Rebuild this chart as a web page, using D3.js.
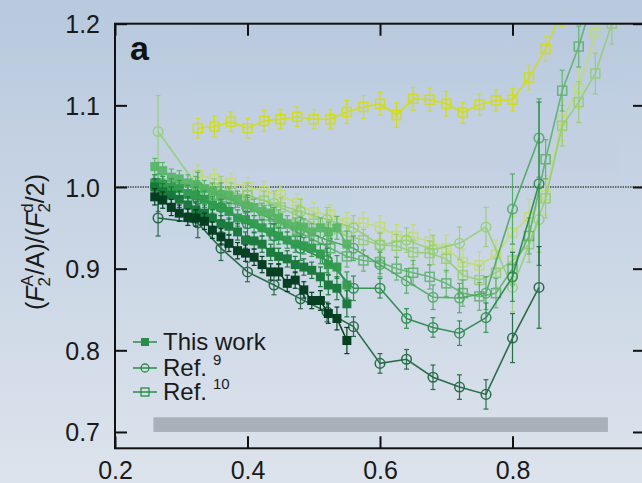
<!DOCTYPE html>
<html><head><meta charset="utf-8">
<script src="https://cdn.jsdelivr.net/npm/d3@7"></script>
<style>body{margin:0;background:#fff}svg{display:block}</style>
</head><body>
<svg id="c" width="642" height="483"></svg>
<script>
// ---------- data ----------
const xTicks = [0.2, 0.4, 0.6, 0.8];
const yTicks = [0.7, 0.8, 0.9, 1.0, 1.1, 1.2];

// This work (filled squares)
const xThis = [0.26,0.272,0.285,0.297,0.31,0.322,0.335,0.347,0.36,0.372,0.385,0.397,0.41,0.422,0.435,0.447,0.46,0.472,0.485,0.497,0.51,0.522,0.535,0.55];
const thisT4 = [1.025,1.02,1.012,1.01,1.005,1.003,0.998,0.995,0.99,0.99,0.985,0.978,0.975,0.97,0.968,0.962,0.955,0.952,0.951,0.945,0.95,0.945,0.95,0.93];
const thisT3 = [1.005,1.003,1.0,0.998,0.992,0.99,0.985,0.978,0.975,0.97,0.962,0.96,0.955,0.95,0.945,0.94,0.935,0.93,0.928,0.925,0.918,0.905,0.902,0.88];
const thisT2 = [1.0,0.994,0.99,0.985,0.978,0.972,0.968,0.962,0.955,0.952,0.945,0.935,0.934,0.93,0.92,0.915,0.912,0.905,0.902,0.898,0.89,0.88,0.876,0.857];
const thisT1 = [0.988,0.984,0.975,0.968,0.963,0.962,0.958,0.947,0.939,0.931,0.922,0.919,0.914,0.905,0.896,0.896,0.882,0.886,0.874,0.861,0.861,0.845,0.839,0.812];
const errThis = [0.01,0.01,0.01,0.01,0.01,0.01,0.01,0.01,0.01,0.01,0.01,0.01,0.01,0.01,0.01,0.01,0.01,0.01,0.01,0.01,0.012,0.012,0.014,0.016];

// Ref. 9 (open circles)
const xRef9 = [0.265,0.325,0.36,0.40,0.44,0.48,0.52,0.56,0.60,0.64,0.68,0.72,0.76,0.80,0.84];
const ref9D = [1.068,1.0,0.995,0.99,0.98,0.97,0.96,0.95,0.929,0.935,0.923,0.931,0.951,0.877,0.96];
const ref9C = [1.01,1.0,0.99,0.975,0.96,0.948,0.935,0.925,0.905,0.885,0.865,0.864,0.87,0.973,1.06];
const ref9B = [0.99,0.985,0.975,0.955,0.94,0.925,0.91,0.876,0.876,0.839,0.828,0.821,0.84,0.89,1.004];
const ref9A = [0.962,0.956,0.925,0.896,0.88,0.863,0.847,0.829,0.784,0.789,0.767,0.755,0.746,0.815,0.877];
const errRef9D = [0.044,0.02,0.018,0.015,0.015,0.015,0.015,0.015,0.015,0.015,0.018,0.02,0.024,0.03,0.04];
const errRef9C = [0.02,0.018,0.015,0.015,0.015,0.015,0.015,0.015,0.015,0.015,0.015,0.018,0.02,0.043,0.048];
const errRef9B = [0.02,0.018,0.015,0.015,0.015,0.015,0.015,0.015,0.012,0.012,0.012,0.015,0.018,0.03,0.1];
const errRef9A = [0.022,0.018,0.015,0.012,0.012,0.012,0.012,0.012,0.012,0.012,0.015,0.015,0.018,0.03,0.05];

// Ref. 10 (open squares)
const xRef10 = [0.325,0.35,0.375,0.40,0.425,0.45,0.475,0.50,0.525,0.55,0.575,0.60,0.625,0.65,0.675,0.70,0.725,0.75,0.775,0.80,0.825,0.85,0.875,0.90,0.925,0.95];
const ref10Y = [1.072,1.074,1.080,1.072,1.081,1.083,1.086,1.083,1.083,1.092,1.098,1.102,1.088,1.108,1.107,1.102,1.091,1.101,1.106,1.107,1.134,1.169,1.217];
const ref10L = [1.015,1.01,1.005,1.0,0.995,0.99,0.98,0.969,0.966,0.956,0.956,0.951,0.94,0.939,0.933,0.925,0.908,0.904,0.917,0.944,0.963,0.99,1.082,1.121,1.189,1.25];
const ref10M = [1.0,0.998,0.993,0.99,0.983,0.975,0.965,0.955,0.948,0.94,0.935,0.929,0.928,0.92,0.919,0.912,0.892,0.886,0.895,0.91,0.93,0.986,1.075,1.104,1.139,1.2];
const ref10D = [0.99,0.985,0.98,0.975,0.965,0.955,0.945,0.935,0.925,0.915,0.91,0.908,0.9,0.895,0.89,0.882,0.87,0.866,0.87,0.90,0.94,1.034,1.118,1.172,1.24,1.3];
const errRef10Y = [0.012,0.013,0.012,0.012,0.013,0.012,0.012,0.012,0.012,0.014,0.014,0.014,0.015,0.014,0.014,0.015,0.013,0.013,0.013,0.014,0.015,0.015,0.02];
const errRef10 = [0.012,0.012,0.012,0.012,0.012,0.012,0.012,0.012,0.012,0.013,0.013,0.014,0.014,0.015,0.015,0.016,0.016,0.017,0.018,0.02,0.022,0.024,0.025,0.025,0.025,0.025];

// systematic band
const bandX = [0.258, 0.944];
const bandY = [0.70, 0.718];

const legendLabels = ["This work", "Ref.", "Ref."];
const legendRefs = ["", "9", "10"];

// ---------- drawing ----------
const svg = d3.select("#c");
const W = 642, H = 483;
const defs = svg.append("defs");
const grad = defs.append("linearGradient").attr("id","bg").attr("x1",0).attr("y1",0).attr("x2",0).attr("y2",1);
grad.append("stop").attr("offset","0%").attr("stop-color","#b8c9de");
grad.append("stop").attr("offset","100%").attr("stop-color","#dce3ec");
svg.append("rect").attr("width",W).attr("height",H).attr("fill","url(#bg)");

const x = d3.scaleLinear().domain([0.2, 1.0]).range([115, 645]);
const y = d3.scaleLinear().domain([0.68, 1.2]).range([448.3, 23.7]);

defs.append("clipPath").attr("id","clip").append("rect")
  .attr("x", x(0.2)).attr("y", y(1.2)).attr("width", x(1.0)-x(0.2)).attr("height", y(0.68)-y(1.2));

// band
svg.append("rect").attr("x", x(bandX[0])).attr("width", x(bandX[1])-x(bandX[0]))
  .attr("y", y(bandY[1])).attr("height", y(bandY[0])-y(bandY[1])).attr("fill","#a9b0b9");

// dotted unity line
svg.append("line").attr("x1", x(0.2)).attr("x2", x(1.0)).attr("y1", y(1.0)).attr("y2", y(1.0))
  .attr("stroke","#4a4a4a").attr("stroke-width",1.3).attr("stroke-dasharray","1.5,1");

const plot = svg.append("g").attr("clip-path","url(#clip)");

function series(xs, ys, errs, color, marker, opts={}) {
  const pts = ys.map((v,i)=>({x:xs[i], y:v, e:errs[i]}));
  const gg = plot.append("g").attr("opacity", opts.opacity ?? 0.85);
  gg.append("path").datum(pts)
    .attr("d", d3.line().x(d=>x(d.x)).y(d=>y(d.y)))
    .attr("fill","none").attr("stroke",color).attr("stroke-width", opts.lw ?? 1.6);
  const eb = gg.append("g").attr("stroke",color).attr("stroke-width",1.2);
  pts.forEach(d=>{
    const cx = x(d.x), t = y(d.y+d.e), b = y(d.y-d.e);
    eb.append("line").attr("x1",cx).attr("x2",cx).attr("y1",t).attr("y2",b);
    eb.append("line").attr("x1",cx-2.5).attr("x2",cx+2.5).attr("y1",t).attr("y2",t);
    eb.append("line").attr("x1",cx-2.5).attr("x2",cx+2.5).attr("y1",b).attr("y2",b);
  });
  const m = gg.append("g");
  pts.forEach(d=>{
    const cx = x(d.x), cy = y(d.y);
    if (marker==="fsq") m.append("rect").attr("x",cx-4.5).attr("y",cy-4.5).attr("width",9).attr("height",9).attr("fill",color);
    else if (marker==="osq") m.append("rect").attr("x",cx-4.5).attr("y",cy-4.5).attr("width",9).attr("height",9).attr("fill","none").attr("stroke",color).attr("stroke-width",1.5);
    else m.append("circle").attr("cx",cx).attr("cy",cy).attr("r",4.8).attr("fill","none").attr("stroke",color).attr("stroke-width",1.5);
  });
}

series(xRef10, ref10L, errRef10, "#c0dd6c", "osq");
series(xRef10, ref10M, errRef10, "#93cc72", "osq");
series(xRef10, ref10D, errRef10, "#58b064", "osq");
series(xRef9, ref9D, errRef9D, "#92cf70", "circ");
series(xRef9, ref9C, errRef9C, "#45a658", "circ");
series(xRef9, ref9B, errRef9B, "#1c8440", "circ");
series(xRef9, ref9A, errRef9A, "#0d5a2e", "circ");
series(xRef10, ref10Y, errRef10Y, "#d2dd14", "osq", {opacity:0.95});
series(xThis, thisT4, errThis, "#58b668", "fsq", {opacity:0.95});
series(xThis, thisT3, errThis, "#2e9a4c", "fsq", {opacity:0.95});
series(xThis, thisT2, errThis, "#137636", "fsq", {opacity:0.95});
series(xThis, thisT1, errThis, "#003b1b", "fsq", {opacity:0.97});

// axes
const font = "'Liberation Sans', Arial, Helvetica, sans-serif";
const fmt = d3.format(".1f");
const axL = svg.append("g").attr("transform",`translate(${x(0.2)},0)`)
  .call(d3.axisLeft(y).tickValues(yTicks).tickSizeInner(-12).tickSizeOuter(0).tickPadding(15).tickFormat(fmt));
const axB = svg.append("g").attr("transform",`translate(0,${y(0.68)})`)
  .call(d3.axisBottom(x).tickValues(xTicks).tickSizeInner(-12).tickSizeOuter(0).tickPadding(13).tickFormat(fmt));
const axT = svg.append("g").attr("transform",`translate(0,${y(1.2)})`)
  .call(d3.axisTop(x).tickValues(xTicks).tickSizeInner(-12).tickSizeOuter(0).tickFormat(""));
const axR = svg.append("g").attr("transform",`translate(${x(1.0)},0)`)
  .call(d3.axisRight(y).tickValues(yTicks).tickSizeInner(-12).tickSizeOuter(0).tickFormat(""));
[axL,axB,axT,axR].forEach(a=>{
  a.select(".domain").remove();
  a.selectAll(".tick line").attr("stroke","#111").attr("stroke-width",2);
  a.selectAll("text").attr("font-family",font).attr("font-size",25).attr("fill","#1a1a1a");
});
axL.selectAll("text").attr("dy","0.36em");

// frame
svg.append("rect").attr("x",x(0.2)).attr("y",y(1.2)).attr("width",x(1.0)-x(0.2)).attr("height",y(0.68)-y(1.2))
  .attr("fill","none").attr("stroke","#111").attr("stroke-width",2);

// panel label
svg.append("text").attr("x",130).attr("y",60).attr("font-family",font).attr("font-weight","bold")
  .attr("font-size",34).attr("fill","#111").text("a");

// y axis label
const yl = svg.append("text").attr("transform","translate(44,242) rotate(-90)")
  .attr("text-anchor","middle").attr("font-family",font).attr("font-size",25).attr("fill","#1a1a1a");
yl.append("tspan").text("(");
yl.append("tspan").attr("font-style","italic").text("F");
yl.append("tspan").attr("font-size",17).attr("dy",6).text("2");
yl.append("tspan").attr("font-size",17).attr("dx",-9.5).attr("dy",-17).text("A");
yl.append("tspan").attr("dy",11).text("/A)/(");
yl.append("tspan").attr("font-style","italic").text("F");
yl.append("tspan").attr("font-size",17).attr("dy",6).text("2");
yl.append("tspan").attr("font-size",17).attr("dx",-9.5).attr("dy",-17).text("d");
yl.append("tspan").attr("dy",11).text("/2)");

// legend
const legColor = "#2a8c46";
const legY = [342, 368, 392];
const legMarkers = ["fsq","circ","osq"];
legY.forEach((ly,i)=>{
  svg.append("line").attr("x1",133).attr("x2",157).attr("y1",ly).attr("y2",ly).attr("stroke",legColor).attr("stroke-width",1.5);
  if (legMarkers[i]==="fsq") svg.append("rect").attr("x",141).attr("y",ly-4).attr("width",8).attr("height",8).attr("fill",legColor);
  else if (legMarkers[i]==="osq") svg.append("rect").attr("x",141).attr("y",ly-4).attr("width",8).attr("height",8).attr("fill","none").attr("stroke",legColor).attr("stroke-width",1.3);
  else svg.append("circle").attr("cx",145).attr("cy",ly).attr("r",4).attr("fill","none").attr("stroke",legColor).attr("stroke-width",1.3);
  const t = svg.append("text").attr("x",163).attr("y",ly+8).attr("font-family",font).attr("font-size",24).attr("fill","#1a1a1a");
  t.append("tspan").text(legendLabels[i]);
  if (legendRefs[i]) t.append("tspan").attr("dx",6).attr("dy",-11).attr("font-size",15).text(legendRefs[i]);
});
</script>
</body></html>
